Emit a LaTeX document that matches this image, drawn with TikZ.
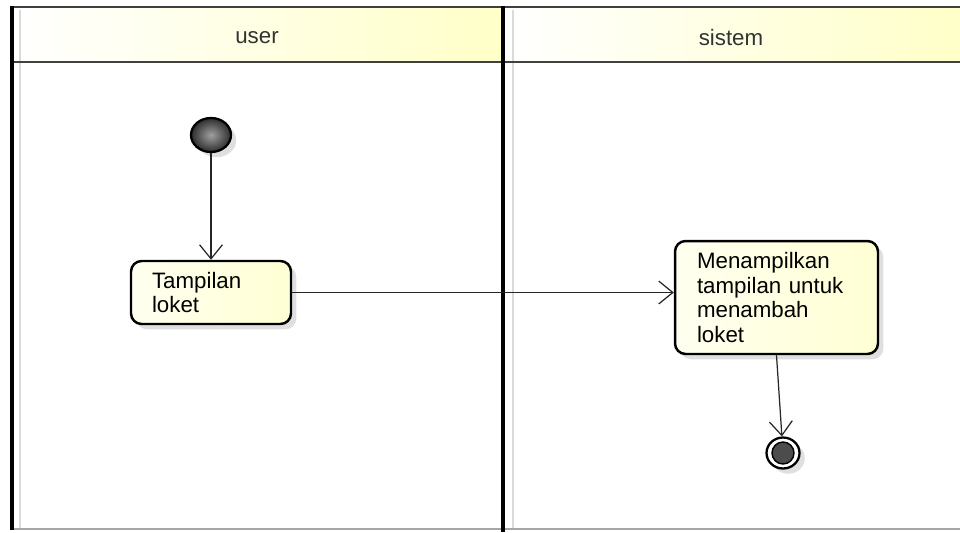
\documentclass[tikz,border=0pt]{standalone}
\usepackage{fontspec}
\setmainfont{Liberation Sans}
\usetikzlibrary{arrows.meta,positioning,shadows,shapes.geometric}
\definecolor{lanekuning}{RGB}{255,255,200}
\definecolor{kotakkuning}{RGB}{255,255,212}
\definecolor{garisabu}{RGB}{218,218,218}

\begin{document}
\begin{tikzpicture}[x=0.02cm, y=-0.02cm,
    font=\fontsize{12.7}{14.2}\selectfont,
    aktivitas/.style={draw=black, line width=1.4pt, rounded corners=6pt,
      left color=kotakkuning!35, right color=kotakkuning,
      drop shadow={shadow xshift=3pt, shadow yshift=-3pt, opacity=0.25},
      align=left, inner xsep=0pt},
    panah/.style={-{Straight Barb[length=8pt,width=13pt]}, line width=0.7pt, black!85}]
  \useasboundingbox (0,0) rectangle (960,532);
  % Header swimlane
  \shade[left color=white, right color=lanekuning] (12,7) rectangle (503,62);
  \shade[left color=white, right color=lanekuning] (503,7) rectangle (962,62);
  \node[text=black!80] (hUser) at (257,38) {user};
  \node[text=black!80] (hSistem) at (731,38) {sistem};
  % Garis bantu abu-abu
  \draw[garisabu, line width=1.2pt] (20,10) -- (20,529);
  \draw[garisabu, line width=1.2pt] (513,10) -- (513,529);
  \draw[gray!70, line width=1pt] (12,529) -- (962,529);
  % Bingkai lane
  \draw[black!75, line width=1.3pt] (12,7) -- (962,7);
  \draw[black!75, line width=1.3pt] (12,62) -- (962,62);
  \draw[black, line width=1.8pt] (12,6) -- (12,530);
  \draw[black, line width=1.8pt] (503,6) -- (503,532);
  % Node awal
  \node[ellipse, draw=black, line width=1.3pt, minimum width=0.8cm, minimum height=0.68cm,
    inner sep=0pt, shading=radial, inner color=gray!75, outer color=gray!35!black,
    drop shadow={shadow xshift=3pt, shadow yshift=-3pt, opacity=0.25}]
    (mulai) at (211,135) {};
  % Aktivitas
  \node[aktivitas, minimum width=3.2cm, minimum height=1.26cm, text width=2.36cm]
    (tampil) at (211,292.5) {Tampilan\\loket};
  \node[aktivitas, minimum width=4.06cm, minimum height=2.26cm, text width=3.18cm]
    (tampilkan) at (776.5,297.5) {Menampilkan\\tampilan untuk\\menambah\\loket};
  % Node akhir
  \node[ellipse, draw=black, line width=1.3pt, minimum width=0.66cm, minimum height=0.62cm,
    inner sep=0pt, fill=white,
    drop shadow={shadow xshift=3pt, shadow yshift=-3pt, opacity=0.25},
    path picture={\fill[gray!60!black, draw=black, line width=0.8pt]
      (path picture bounding box.center) ellipse (11 and 11);}]
    (akhir) at (783,453) {};
  % Alur
  \draw[panah] (mulai) -- (tampil);
  \draw[panah] (tampil.east) -- (tampil.east -| tampilkan.west);
  \draw[panah] (tampilkan.south) -- (akhir);
\end{tikzpicture}
\end{document}
